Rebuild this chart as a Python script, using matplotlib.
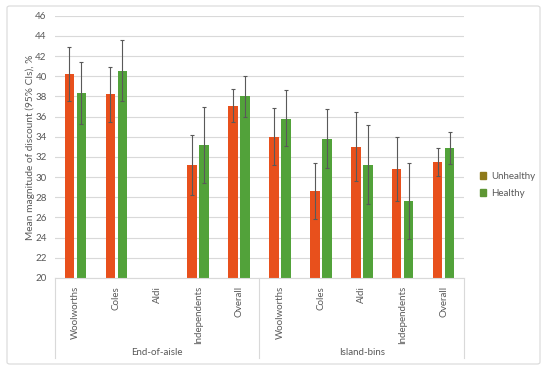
import numpy as np
import matplotlib
matplotlib.use('Agg')
import matplotlib.pyplot as plt
from matplotlib.patches import Patch, FancyBboxPatch

plt.rcParams['font.family'] = ['Lato', 'DejaVu Sans']

# data
groups = ['End-of-aisle', 'Island-bins']
stores = ['Woolworths', 'Coles', 'Aldi', 'Independents', 'Overall']

unhealthy = [40.2, 38.2, np.nan, 31.2, 37.1,
             34.0, 28.6, 32.95, 30.8, 31.5]
unhealthy_lo = [37.5, 35.5, np.nan, 28.2, 35.5,
                31.2, 25.8, 29.6, 27.6, 30.1]
unhealthy_hi = [42.9, 40.9, np.nan, 34.2, 38.75,
                36.85, 31.4, 36.5, 34.0, 32.9]

healthy = [38.3, 40.5, np.nan, 33.2, 38.0,
           35.8, 33.8, 31.2, 27.6, 32.85]
healthy_lo = [35.3, 37.5, np.nan, 29.4, 36.0,
              33.1, 30.95, 27.3, 23.9, 31.3]
healthy_hi = [41.4, 43.6, np.nan, 37.0, 40.0,
              38.65, 36.75, 35.2, 31.4, 34.45]

c_unh = '#E8501C'
c_hea = '#52A23A'
txt = '#595959'

fig = plt.figure(figsize=(5.5, 3.72), dpi=100)

# chart border
fig.patches.append(FancyBboxPatch((7 / 550, 1 - 364 / 372), 533 / 550, 358 / 372,
                                  boxstyle='round,pad=0,rounding_size=0.005',
                                  transform=fig.transFigure, fill=False,
                                  edgecolor='#D9D9D9', linewidth=0.8))

ax = fig.add_axes([0.1, 0.2527, 0.7436, 0.705])

n = len(groups) * len(stores)
x = np.arange(n)
w = 0.235
off = 0.147

u = np.array(unhealthy)
h = np.array(healthy)
u_err = [u - np.array(unhealthy_lo), np.array(unhealthy_hi) - u]
h_err = [h - np.array(healthy_lo), np.array(healthy_hi) - h]

ax.bar(x - off, u, w, color=c_unh, zorder=2)
ax.bar(x + off, h, w, color=c_hea, zorder=2)
ax.errorbar(x - off, u, yerr=u_err, fmt='none', ecolor=txt, elinewidth=0.8,
            capsize=1.6, capthick=0.8, zorder=3)
ax.errorbar(x + off, h, yerr=h_err, fmt='none', ecolor=txt, elinewidth=0.8,
            capsize=1.6, capthick=0.8, zorder=3)

ax.set_xlim(-0.5, n - 0.5)
ax.set_ylim(20, 46)
ax.set_yticks(np.arange(20, 47, 2))
ax.tick_params(axis='y', length=0, labelsize=7, colors=txt, pad=6)
ax.set_xticks([])
ax.grid(axis='y', color='#D9D9D9', linewidth=0.8, zorder=0)
ax.set_axisbelow(True)
for s in ['top', 'right', 'left']:
    ax.spines[s].set_visible(False)
ax.spines['bottom'].set_color('#D9D9D9')
ax.spines['bottom'].set_linewidth(0.8)

ax.set_ylabel('Mean magnitude of discount (95% CIs), %', fontsize=7.3,
              color=txt, labelpad=0)

# multi-level category axis
trans = ax.get_xaxis_transform()
for i in range(n):
    ax.text(x[i], -0.03, stores[i % len(stores)], rotation=90, ha='center',
            va='top', fontsize=7, color=txt, transform=trans)
for g, name in enumerate(groups):
    mid = (g * len(stores) + (g + 1) * len(stores) - 1) / 2
    ax.text(mid, -0.285, name, ha='center', va='center', fontsize=7,
            color=txt, transform=trans)
for b in [-0.5, len(stores) - 0.5, n - 0.5]:
    ax.plot([b, b], [0, -0.305], color='#D9D9D9', linewidth=0.8,
            transform=trans, clip_on=False)

handles = [Patch(color='#8E7A1A', label='Unhealthy'),
           Patch(color='#5E9634', label='Healthy')]
fig.legend(handles=handles, loc='center left', bbox_to_anchor=(0.856, 0.503),
           frameon=False, fontsize=7, handlelength=0.7, handleheight=0.7,
           handletextpad=0.5, labelspacing=0.9, labelcolor=txt)

fig.savefig('out.png', dpi=100)
